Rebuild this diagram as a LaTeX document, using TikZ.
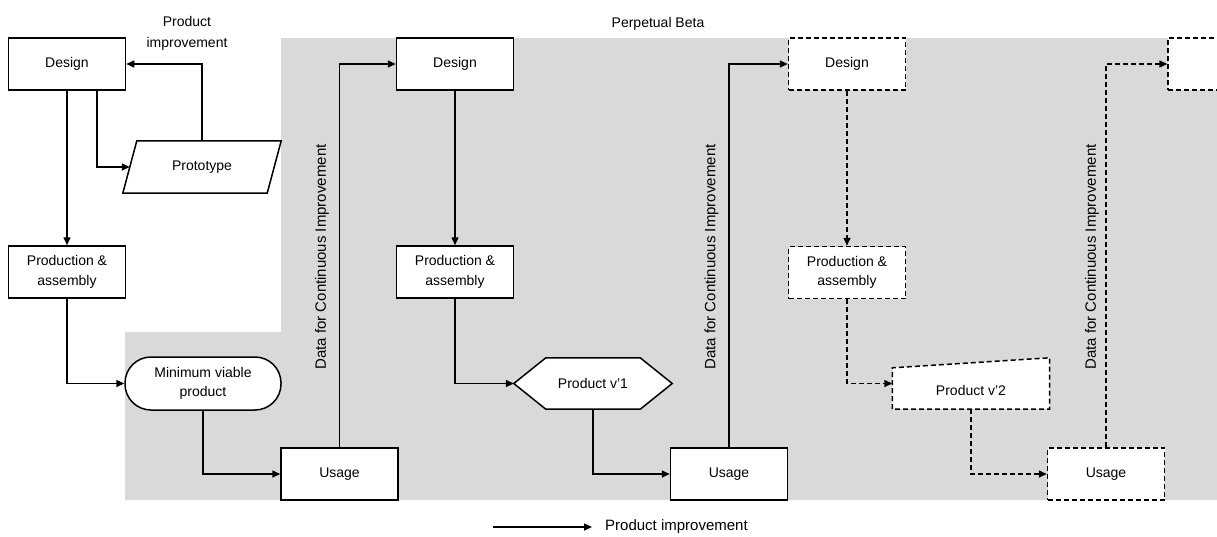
\documentclass[tikz,border=0pt]{standalone}
\usepackage{fontspec}
\setmainfont{Liberation Sans}
\usetikzlibrary{arrows.meta}
\definecolor{bgray}{HTML}{D9D9D9}
\newcommand{\nodefont}{\fontsize{14}{19.5}\selectfont}
\newcommand{\labfont}{\fontsize{15}{18}\selectfont}
\begin{document}
\begin{tikzpicture}[x=1pt,y=-1pt,
  box/.style={draw, fill=white, line width=1.5pt, minimum width=117pt, minimum height=52pt, align=center, inner sep=2pt, font=\nodefont},
  ghost/.style={minimum width=#1, minimum height=52pt, inner sep=0pt, align=center, font=\nodefont},
  txt/.style={align=center, inner sep=0pt, font=\nodefont},
  bd/.style={line width=1.5pt, fill=white},
  ln/.style={line width=1.5pt, -{Triangle[length=8pt,width=7pt]}},
  dsh/.style={dash pattern=on 5pt off 3pt},
  lbl/.style={rotate=90, inner sep=0pt, font=\labfont}]
\useasboundingbox (0,0) rectangle (1217,536);
\fill[bgray] (281,38) -- (1217,38) -- (1217,500) -- (125,500) -- (125,332) -- (281,332) -- cycle;

% column 1
\node[box] (d1) at (67,64) {Design};
\node[ghost=144pt] (proto) at (202,167) {};
\draw[bd] ([xshift=7pt]proto.north west) -- ([xshift=7pt]proto.north east) -- ([xshift=-7pt]proto.south east) -- ([xshift=-7pt]proto.south west) -- cycle;
\node[txt] (protot) at (proto) {Prototype};
\node[box] (p1) at (67,272) {Production \&\\assembly};
\node[box, minimum width=156pt, minimum height=53pt, rounded corners=26pt] (mvp) at (203,383.5) {Minimum viable\\product};
\node[txt, font=\fontsize{14}{21}\selectfont] (pil) at (187,33) {Product\\improvement};

% column 2
\node[box] (u1) at (339.5,474) {Usage};
\node[box] (d2) at (455,64) {Design};
\node[box] (p2) at (455,272) {Production \&\\assembly};
\node[ghost=158pt, minimum height=51pt] (hex) at (593,383.5) {};
\draw[bd] (hex.west) -- ([xshift=32pt]hex.north west) -- ([xshift=-32pt]hex.north east) -- (hex.east) -- ([xshift=-32pt]hex.south east) -- ([xshift=32pt]hex.south west) -- cycle;
\node[txt] (hext) at (hex) {Product v’1};

% column 3
\node[box] (u2) at (729,474) {Usage};
\node[box, dsh] (d3) at (847,64) {Design};
\node[box, dsh] (p3) at (847,272.5) {Production \&\\assembly};
\node[ghost=157pt, minimum height=51pt] (v2) at (971,383.5) {};
\draw[bd, dsh] (v2.south west) -- ([yshift=-10pt]v2.north west) -- (v2.north east) -- (v2.south east) -- cycle;
\node[txt] (v2t) at (971,390) {Product v’2};

% column 4
\node[box, dsh] (u3) at (1106,474) {Usage};
\begin{scope}
\clip (0,0) rectangle (1217,536);
\node[box, dsh] (d4) at (1226.5,64) {};
\end{scope}

% labels
\node[lbl] (l1) at (322,257) {Data for Continuous Improvement};
\node[lbl] (l2) at (711.5,257) {Data for Continuous Improvement};
\node[lbl] (l3) at (1092,257) {Data for Continuous Improvement};
\node[txt] (pb) at (658,24) {Perpetual Beta};

% connectors
\draw[ln] ([xshift=30pt]d1.south) |- (proto.west);
\draw[ln] (proto.north) |- (d1.east);
\draw[ln] (d1) -- (p1);
\draw[ln] (p1.south) |- (mvp.west);
\draw[ln] (mvp.south) |- (u1.west);
\draw[ln] (u1.north) |- (d2.west);
\draw[ln] (d2) -- (p2);
\draw[ln] (p2.south) |- (hex.west);
\draw[ln] (hex.south) |- (u2.west);
\draw[ln] (u2.north) |- (d3.west);
\draw[ln, dsh] (d3) -- (p3);
\draw[ln, dsh] (p3.south) |- (v2.west);
\draw[ln, dsh] (v2.south) |- (u3.west);
\draw[ln, dsh] (u3.north) |- (d4.west);

% legend
\coordinate (lg1) at (493,527);
\coordinate (lg2) at (592,527);
\draw[ln] (lg1) -- (lg2);
\node[txt, anchor=west, font=\labfont] (lgt) at (605,527) {Product improvement};
\end{tikzpicture}
\end{document}
